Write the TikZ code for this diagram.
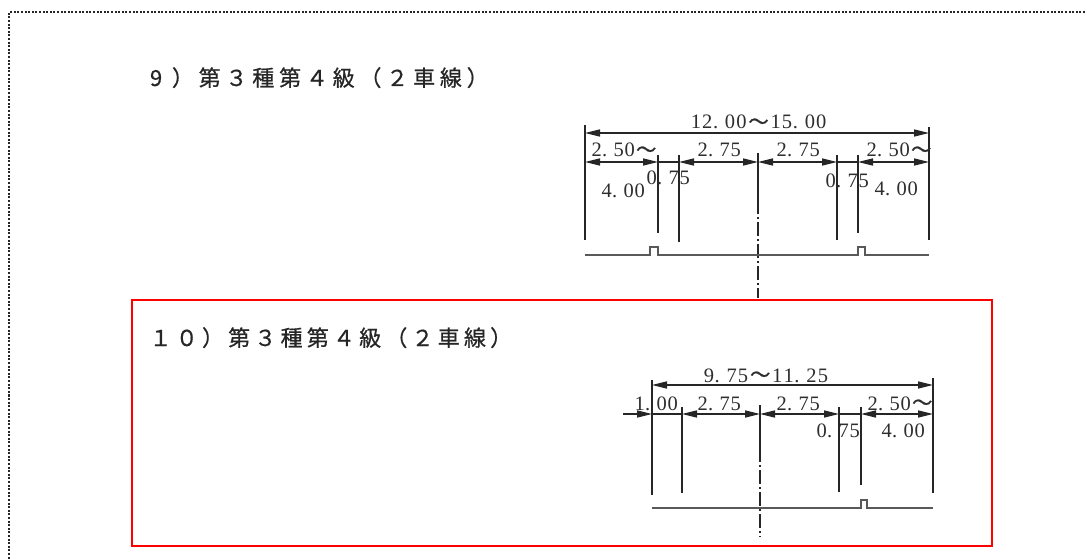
\documentclass[tikz,border=0pt]{standalone}
\usepackage{fontspec}
\setmainfont{Liberation Serif}
\newfontfamily\cjk[FakeBold=0.6]{Noto Sans CJK JP}
\usetikzlibrary{arrows.meta}
\newlength\cellw
\setlength\cellw{11pt}
\newlength\tpitch
\setlength\tpitch{26pt}
\newcommand\spc[1]{\spcA#1\relax}
\def\spcA#1{\ifx\relax#1\else\ifx.#1\makebox[\cellw][l]{#1}\else\makebox[\cellw]{#1}\fi\expandafter\spcA\fi}
\newcommand\wv{\makebox[2\cellw]{\cjk ～}}
\newcommand\tcells[1]{\tcellsA#1\relax}
\def\tcellsA#1{\ifx\relax#1\else\makebox[\tpitch]{#1}\expandafter\tcellsA\fi}
\tikzset{
  dimline/.style={line width=1.4pt, draw=black!85},
  dimarr/.style={dimline, {Triangle[length=15pt,width=7pt]}-{Triangle[length=15pt,width=7pt]}},
  dimone/.style={dimline, -{Triangle[length=15pt,width=7pt]}},
  extline/.style={line width=1.7pt, draw=black!85},
  groundline/.style={line width=1.5pt, draw=black!65},
  axisline/.style={line width=1.6pt, draw=black!85},
  axisdash/.style={axisline, dash pattern=on 14pt off 3pt on 2pt off 3pt},
  dimtxt/.style={anchor=base west, inner sep=0pt, text=black!82, font=\fontsize{20.5}{20.5}\selectfont},
  titletxt/.style={anchor=base west, inner sep=0pt, text=black!85, font=\cjk\fontsize{22}{22}\selectfont},
  framedot/.style={draw=black!85, line width=2pt, dash pattern=on 2pt off 1.6pt},
  redbox/.style={draw=red, line width=2.8pt}
}
\begin{document}
\begin{tikzpicture}[x=1pt,y=-1pt]
\useasboundingbox (0,0) rectangle (1087,559);
% outer dotted frame
\draw[framedot] (1085,12.5) -- (9,12.5) -- (9,559);
% red highlight
\draw[redbox] (132,300) rectangle (992,546);

% titles
\node[titletxt] (t9) at (142.5,86) {\setlength\tpitch{26.8pt}\tcells{9）第３種第４級（２車線）}};
\node[titletxt] (t10) at (147.3,346) {\setlength\tpitch{26.2pt}\tcells{１０）第３種第４級（２車線）}};

% ===== upper section =====
\draw[extline] (585,125) -- (585,240);
\draw[extline] (658,155) -- (658,233);
\draw[extline] (679,155) -- (679,242);
\draw[extline] (837,155) -- (837,240);
\draw[extline] (858,155) -- (858,233);
\draw[extline] (929,127) -- (929,240);
\draw[axisline] (758,153) -- (758,200);
\draw[axisdash] (758,200) -- (758,298);
\draw[dimarr] (585,133) -- (929,133);
\draw[dimarr] (585,162) -- (658,162);
\draw[dimline] (658,162) -- (679,162);
\draw[dimarr] (679,162) -- (758,162);
\draw[dimarr] (758,162) -- (837,162);
\draw[dimline] (837,162) -- (858,162);
\draw[dimarr] (858,162) -- (929,162);
\draw[groundline] (585,255) -- (650,255) -- (650,247) -- (658,247) -- (658,255)
  -- (858,255) -- (858,247) -- (865,247) -- (865,255) -- (929,255);
\node[dimtxt] (a0) at (690,129) {\setlength\cellw{11.4pt}\spc{12.00}\wv\spc{15.00}};
\node[dimtxt] (a1) at (591,157) {\spc{2.50}\wv};
\node[dimtxt] (a2) at (601,197) {\spc{4.00}};
\node[dimtxt] (a3) at (646,184) {\spc{0.75}};
\node[dimtxt] (a4) at (697,157) {\spc{2.75}};
\node[dimtxt] (a5) at (776,157) {\spc{2.75}};
\node[dimtxt] (a6) at (866,157) {\spc{2.50}\wv};
\node[dimtxt] (a7) at (825,187) {\spc{0.75}};
\node[dimtxt] (a8) at (874,195) {\spc{4.00}};

% ===== lower section =====
\draw[extline] (652,380) -- (652,495);
\draw[extline] (682,407) -- (682,493);
\draw[extline] (839,407) -- (839,492);
\draw[extline] (861,407) -- (861,485);
\draw[extline] (933,378) -- (933,493);
\draw[axisline] (760,405) -- (760,448);
\draw[axisdash] (760,448) -- (760,537);
\draw[dimarr] (652,385) -- (933,385);
\draw[dimone] (623,414) -- (652,414);
\draw[dimline] (652,414) -- (682,414);
\draw[dimarr] (682,414) -- (760,414);
\draw[dimarr] (760,414) -- (839,414);
\draw[dimline] (839,414) -- (861,414);
\draw[dimarr] (861,414) -- (933,414);
\draw[groundline] (652,508) -- (861,508) -- (861,500) -- (867,500) -- (867,508) -- (933,508);
\node[dimtxt] (b0) at (703,382) {\setlength\cellw{11.4pt}\spc{9.75}\wv\spc{11.25}};
\node[dimtxt] (b1) at (634,410) {\spc{1.00}};
\node[dimtxt] (b2) at (697,410) {\spc{2.75}};
\node[dimtxt] (b3) at (776,410) {\spc{2.75}};
\node[dimtxt] (b4) at (867,410) {\spc{2.50}\wv};
\node[dimtxt] (b5) at (816,437) {\spc{0.75}};
\node[dimtxt] (b6) at (881,437) {\spc{4.00}};
\end{tikzpicture}
\end{document}
